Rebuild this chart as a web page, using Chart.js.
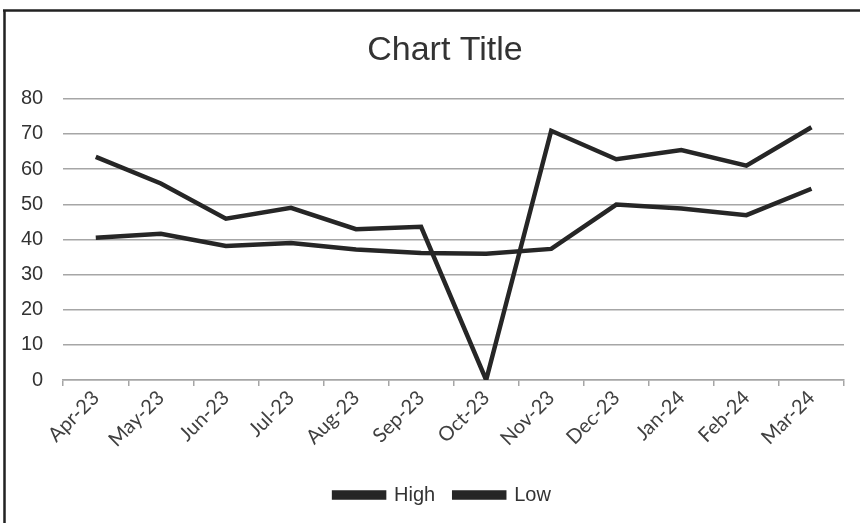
<!DOCTYPE html>
<html>
<head>
<meta charset="utf-8">
<title>Chart Title</title>
<script src="https://cdn.jsdelivr.net/npm/chart.js@4.4.1/dist/chart.umd.min.js"></script>
<style>
  html, body { margin: 0; padding: 0; background: #fff; }
  canvas { display: block; }
</style>
</head>
<body>
<canvas id="myChart" width="860" height="523"></canvas>
<script>
// months along the bottom
var months = ['Apr-23', 'May-23', 'Jun-23', 'Jul-23', 'Aug-23', 'Sep-23',
  'Oct-23', 'Nov-23', 'Dec-23', 'Jan-24', 'Feb-24', 'Mar-24'];

// values
var high = [63.5, 55.9, 45.9, 49, 42.9, 43.6, 0, 70.9, 62.8, 65.4, 61, 71.9];
var low = [40.5, 41.6, 38.1, 39, 37.1, 36.1, 35.9, 37.3, 49.9, 48.8, 46.9, 54.4];

var yTicks = [0, 10, 20, 30, 40, 50, 60, 70, 80];

var lineColor = '#262626';
var gridColor = '#a6a6a6';

// the frame round the chart (top and left edges only are visible)
var framePlugin = {
  id: 'frame',
  beforeDraw: function (chart) {
    var c = chart.ctx;
    c.save();
    c.fillStyle = '#fff';
    c.fillRect(0, 0, chart.width, chart.height);
    c.strokeStyle = '#222';
    c.lineWidth = 2.5;
    c.beginPath();
    c.moveTo(3, 10.5);
    c.lineTo(chart.width, 10.5);
    c.moveTo(4.5, 10);
    c.lineTo(4.5, chart.height);
    c.stroke();
    c.restore();
  }
};

// the original box runs off the right edge, so title and legend sit a bit right of centre
var centrePlugin = {
  id: 'centre',
  afterLayout: function (chart) {
    if (chart.titleBlock) {
      chart.titleBlock.left = 0;
      chart.titleBlock.right = 890;
    }
    if (chart.legend) {
      chart.legend.left = 0;
      chart.legend.right = 885;
    }
  }
};

var ctx = document.getElementById('myChart').getContext('2d');
var chart = new Chart(ctx, {
  type: 'line',
  data: {
    labels: months,
    datasets: [{
      label: 'High',
      data: high,
      borderColor: lineColor,
      backgroundColor: lineColor,
      borderWidth: 4.5,
      pointRadius: 0,
      tension: 0
    }, {
      label: 'Low',
      data: low,
      borderColor: lineColor,
      backgroundColor: lineColor,
      borderWidth: 4.5,
      pointRadius: 0,
      tension: 0
    }]
  },
  options: {
    responsive: false,
    animation: false,
    devicePixelRatio: 1,
    layout: { autoPadding: false, padding: { left: 1, right: 16, top: 10, bottom: 8 } },
    plugins: {
      title: {
        display: true,
        text: 'Chart Title',
        color: '#333',
        font: { family: 'Liberation Sans', size: 34, weight: 'normal', lineHeight: 1.2 },
        padding: { top: 20, bottom: 28 }
      },
      legend: {
        display: true,
        position: 'bottom',
        labels: {
          color: '#333',
          font: { family: 'Liberation Sans', size: 20 },
          boxWidth: 50,
          boxHeight: 5,
          padding: 19
        }
      },
      tooltip: { enabled: false }
    },
    scales: {
      x: {
        offset: true,
        grid: {
          offset: true,
          drawOnChartArea: false,
          drawTicks: true,
          tickLength: 6,
          color: gridColor,
          lineWidth: 1.5
        },
        border: { display: true, color: gridColor, width: 1.5 },
        ticks: {
          color: '#404040',
          font: { family: 'Lato', size: 20 },
          minRotation: 45,
          maxRotation: 45,
          autoSkip: false,
          padding: 0
        },
        afterFit: function (scale) { scale.height = 86; }
      },
      y: {
        min: 0,
        max: 80,
        afterBuildTicks: function (scale) {
          scale.ticks = yTicks.map(function (v) { return { value: v }; });
        },
        grid: {
          drawTicks: false,
          color: gridColor,
          lineWidth: 1.5
        },
        border: { display: false },
        ticks: {
          color: '#333',
          font: { family: 'Liberation Sans', size: 20 },
          padding: 20
        }
      }
    }
  },
  plugins: [framePlugin, centrePlugin]
});
</script>
</body>
</html>
